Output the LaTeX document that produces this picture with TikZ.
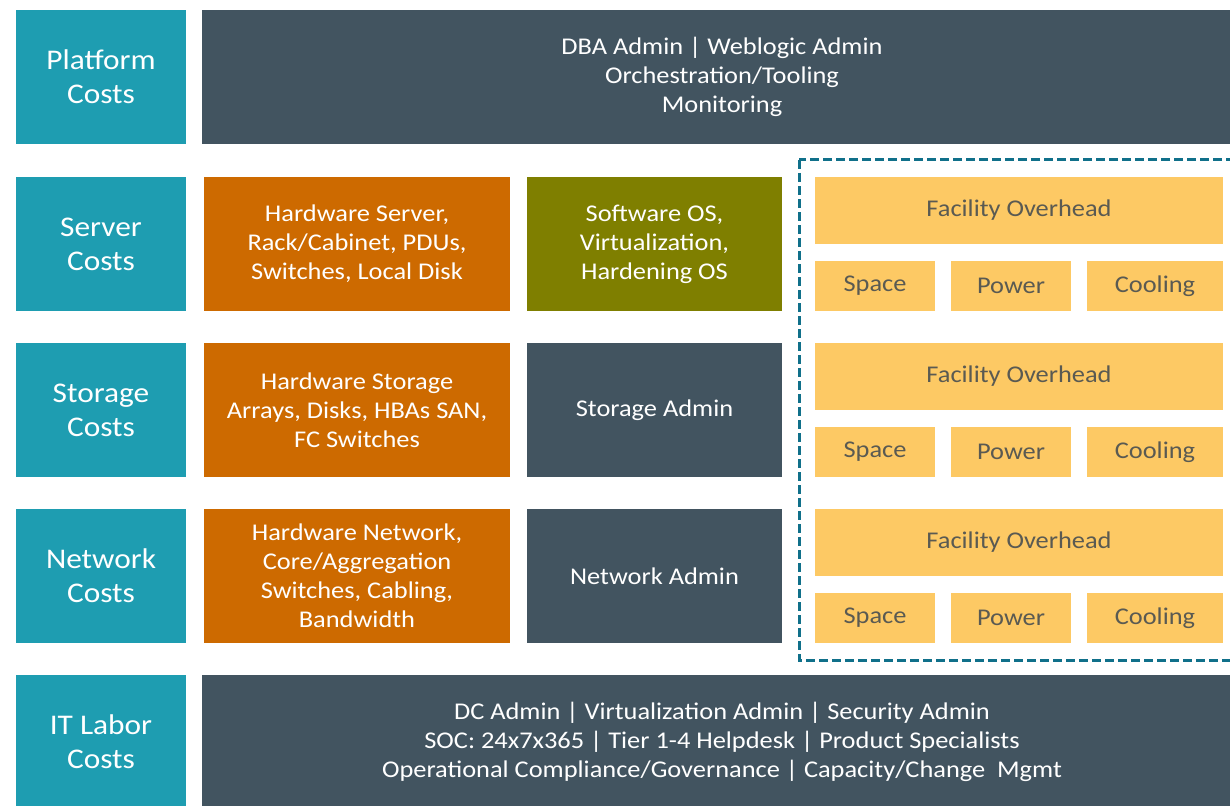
\documentclass[tikz,border=0pt]{standalone}
\usepackage{fontspec}
\setmainfont{Carlito}[FakeStretch=1.1]
\usetikzlibrary{calc}
\definecolor{costteal}{HTML}{1E9DB1}
\definecolor{slategrey}{HTML}{425460}
\definecolor{hwonge}{HTML}{CD6A00}
\definecolor{swolive}{HTML}{7F7F00}
\definecolor{facyellow}{HTML}{FDC964}
\definecolor{facborder}{HTML}{10708A}
\definecolor{factext}{HTML}{5A5A52}
\begin{document}
\begin{tikzpicture}[x=1pt,y=-1pt,
	box/.style={inner sep=0pt,align=center,text=white,font=\fontsize{24}{29}\selectfont},
	costbox/.style={box,fill=costteal,minimum width=170pt,minimum height=134pt,font=\fontsize{28.5}{34}\selectfont},
	slatebox/.style={box,fill=slategrey,minimum height=134pt},
	hwbox/.style={box,fill=hwonge,minimum width=306pt,minimum height=134pt},
	swbox/.style={box,fill=swolive,minimum width=255pt,minimum height=134pt},
	facbox/.style={box,fill=facyellow,text=factext}]
		\useasboundingbox (0,0) rectangle (1230,805);
		\clip (0,0) rectangle (1230,805);
		\newcommand{\ColA}{357}
		\newcommand{\ColB}{654.5}
		% cost categories
		\node[costbox] (platform) at (101,77) {Platform\\Costs};
		\node[costbox] (server) at (101,244) {Server\\Costs};
		\node[costbox] (storage) at (101,410) {Storage\\Costs};
		\node[costbox] (network) at (101,576) {Network\\Costs};
		\node[costbox] (labor) at (101,742) {IT Labor\\Costs};
		% full-width rows
		\node[slatebox,minimum width=1040pt] (platformadmin) at (722,77) {DBA Admin | Weblogic Admin\\Orchestration/Tooling\\Monitoring};
		\node[slatebox,minimum width=1040pt] (laboradmin) at (722,742) {DC Admin | Virtualization Admin | Security Admin\\SOC: 24x7x365 | Tier 1-4 Helpdesk | Product Specialists\\Operational Compliance/Governance | Capacity/Change~ Mgmt};
		% hardware
		\node[hwbox] (serverhw) at (\ColA,244) {Hardware Server,\\Rack/Cabinet, PDUs,\\Switches, Local Disk};
		\node[hwbox] (storagehw) at (\ColA,410) {Hardware Storage\\Arrays, Disks, HBAs SAN,\\FC Switches};
		\node[hwbox] (networkhw) at (\ColA,576) {Hardware Network,\\Core/Aggregation\\Switches, Cabling,\\Bandwidth};
		% software / admin
		\node[swbox] (serversw) at (\ColB,244) {Software OS,\\Virtualization,\\Hardening OS};
		\node[slatebox,minimum width=255pt] (storageadmin) at (\ColB,410) {Storage Admin};
		\node[slatebox,minimum width=255pt] (networkadmin) at (\ColB,576) {Network Admin};
		% facility
		\draw[facborder,line width=3pt,dash pattern=on 9pt off 4pt] (799,160) rectangle (1245,660);
		\foreach \yt/\n in {177/1,343/2,509/3}{
			\node[facbox,minimum width=408pt,minimum height=67pt] (fac\n) at (1019,\yt+33.5) {Facility Overhead};
			\node[facbox,minimum width=120pt,minimum height=50pt] (space\n) at (875,\yt+109) {Space};
			\node[facbox,minimum width=120pt,minimum height=50pt] (power\n) at (1011,\yt+109) {Power};
			\node[facbox,minimum width=136pt,minimum height=50pt] (cooling\n) at (1155,\yt+109) {Cooling};
		}
	\end{tikzpicture}
\end{document}
